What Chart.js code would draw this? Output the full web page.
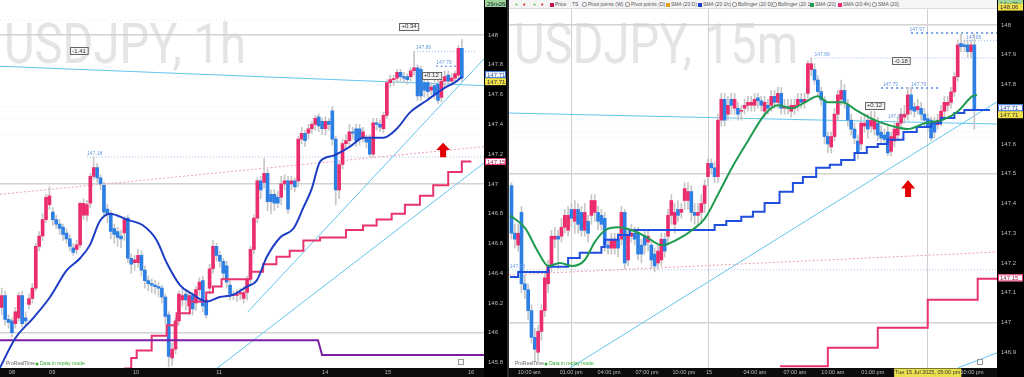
<!DOCTYPE html>
<html><head><meta charset="utf-8">
<script src="https://cdn.jsdelivr.net/npm/chart.js@4.4.1/dist/chart.umd.min.js"></script>
<style>
html,body{margin:0;padding:0;background:#fff;width:1024px;height:377px;overflow:hidden;font-family:"Liberation Sans",Arial,sans-serif;}
#c1{position:absolute;left:0;top:0;}
#c2{position:absolute;left:509px;top:0;}
#sep{position:absolute;left:507px;top:0;width:2px;height:377px;background:#2a2a2a;}
#tb{position:absolute;left:509px;top:0;width:488px;height:8px;background:#f5f5f5;font-size:5px;line-height:8px;color:#555;white-space:nowrap;border-bottom:1px solid #ddd;}
#tb span{position:absolute;top:0;}
#tb i{display:inline-block;width:4px;height:4px;margin-right:1px;vertical-align:-0.5px;}
#tb b{display:inline-block;width:3px;height:3px;border:0.5px solid #999;border-radius:2px;margin-right:1px;vertical-align:-0.5px;}
</style></head><body>
<canvas id="c1" width="507" height="377"></canvas>
<div id="sep"></div>
<canvas id="c2" width="515" height="377"></canvas>
<div id="tb">
<span style="left:6px;color:#2a2">+</span><span style="left:14px;color:#d22">&#9830;</span><span style="left:24px;color:#2a2">+</span><span style="left:32px;color:#d22">&#9830;</span>
<span style="left:41px"><i style="background:#c2185b"></i>Price</span>
<span style="left:63px">TS</span>
<span style="left:73px"><b></b>Pivot points (W)</span>
<span style="left:116px"><b></b>Pivot points (D)</span>
<span style="left:157px"><i style="background:#e0a020"></i>SMA (20 D)</span>
<span style="left:189px"><i style="background:#1e40c8"></i>SMA (20 1h)</span>
<span style="left:223px"><b></b>Bollinger (20 D)</span>
<span style="left:263px"><b></b>Bollinger (20 1)</span>
<span style="left:301px"><i style="background:#1e9e50"></i>SMA (20)</span>
<span style="left:329px"><i style="background:#ec2d6d"></i>SMA (20 4h)</span>
<span style="left:363px"><b></b>SMA (20)</span>
</div>
<script>
// ================= DATA : USDJPY 1h (left) =================
const L_open  = [146.17,146.25,146.09,146.08,146.06,146.10,146.25,146.10,146.19,146.23,146.30,146.58,146.65,146.76,146.86,146.81,146.76,146.73,146.71,146.67,146.63,146.57,146.56,146.59,146.79,146.79,146.87,147.05,147.11,147.04,146.99,146.83,146.80,146.70,146.68,146.65,146.67,146.77,146.50,146.47,146.47,146.52,146.42,146.35,146.33,146.32,146.31,146.30,146.24,146.12,145.83,145.89,146.08,146.22,146.26,146.18,146.25,146.20,146.29,146.35,146.22,146.30,146.43,146.58,146.52,146.48,146.45,146.32,146.25,146.25,146.26,146.23,146.27,146.36,146.56,146.77,147.02,147.01,147.07,146.93,146.93,146.91,146.91,147.00,147.02,147.00,147.02,147.02,147.30,147.34,147.34,147.37,147.40,147.45,147.42,147.37,147.42,147.49,147.30,146.96,147.13,147.27,147.29,147.35,147.37,147.37,147.31,147.30,147.30,147.20,147.41,147.40,147.37,147.46,147.68,147.70,147.71,147.75,147.72,147.72,147.72,147.76,147.78,147.77,147.68,147.68,147.63,147.66,147.67,147.58,147.69,147.73,147.69,147.71,147.73,147.91];
const L_close = [146.25,146.09,146.07,146.00,146.14,146.25,146.06,146.08,146.23,146.30,146.58,146.65,146.76,146.91,146.92,146.76,146.73,146.70,146.66,146.63,146.58,146.54,146.59,146.87,146.87,146.86,147.05,147.11,147.04,147.00,146.81,146.80,146.68,146.66,146.64,146.63,146.76,146.50,146.46,146.49,146.52,146.42,146.35,146.33,146.32,146.31,146.30,146.24,146.11,145.84,145.89,146.08,146.26,146.25,146.22,146.25,146.16,146.29,146.34,146.18,146.12,146.43,146.58,146.52,146.48,146.40,146.34,146.26,146.25,146.26,146.27,146.27,146.36,146.56,146.77,147.02,146.96,147.07,146.88,146.88,146.87,146.87,147.00,147.02,146.83,147.02,146.98,147.30,147.34,147.29,147.37,147.40,147.44,147.39,147.37,147.42,147.40,147.30,146.96,147.13,147.27,147.29,147.35,147.34,147.29,147.30,147.35,147.28,147.20,147.41,147.40,147.38,147.46,147.68,147.70,147.70,147.75,147.72,147.71,147.70,147.76,147.78,147.59,147.59,147.63,147.62,147.65,147.60,147.56,147.69,147.72,147.69,147.71,147.74,147.91,147.71];
const L_high  = [146.30,146.28,146.12,146.10,146.17,146.27,146.28,146.14,146.26,146.33,146.60,146.68,146.80,146.93,146.98,146.84,146.79,146.76,146.73,146.70,146.66,146.60,146.62,146.88,146.90,146.89,147.07,147.18,147.14,147.06,147.01,146.86,146.82,146.73,146.71,146.69,146.78,146.79,146.53,146.52,146.56,146.55,146.45,146.38,146.36,146.35,146.34,146.32,146.26,146.14,145.93,146.10,146.28,146.30,146.29,146.28,146.27,146.31,146.37,146.38,146.25,146.46,146.62,146.60,146.55,146.50,146.48,146.35,146.28,146.29,146.30,146.31,146.38,146.58,146.79,147.04,147.05,147.17,147.10,146.96,146.96,146.95,147.05,147.06,147.05,147.05,147.04,147.32,147.38,147.36,147.40,147.42,147.46,147.47,147.44,147.45,147.44,147.52,147.32,147.15,147.30,147.33,147.40,147.38,147.40,147.40,147.38,147.33,147.33,147.44,147.44,147.43,147.48,147.70,147.73,147.73,147.77,147.77,147.75,147.74,147.78,147.89,147.80,147.79,147.71,147.71,147.68,147.70,147.70,147.72,147.76,147.76,147.74,147.76,147.93,147.97];
const L_low   = [146.12,146.05,146.03,145.97,146.03,146.08,146.04,146.05,146.16,146.20,146.28,146.55,146.62,146.74,146.83,146.72,146.70,146.66,146.62,146.60,146.55,146.52,146.53,146.57,146.76,146.75,146.84,147.03,147.01,146.96,146.78,146.74,146.63,146.60,146.58,146.57,146.62,146.47,146.40,146.42,146.44,146.38,146.30,146.28,146.27,146.26,146.24,146.20,146.06,145.77,145.78,145.86,146.05,146.18,146.15,146.12,146.12,146.15,146.25,146.14,146.10,146.26,146.40,146.48,146.44,146.36,146.30,146.22,146.22,146.21,146.22,146.20,146.22,146.33,146.53,146.74,146.90,146.97,146.82,146.80,146.82,146.84,146.86,146.96,146.80,146.96,146.95,146.98,147.27,147.25,147.30,147.34,147.36,147.35,147.33,147.33,147.36,147.26,146.86,146.90,147.10,147.24,147.25,147.30,147.25,147.26,147.28,147.24,147.18,147.18,147.36,147.35,147.34,147.44,147.65,147.66,147.68,147.69,147.68,147.67,147.69,147.73,147.56,147.56,147.58,147.58,147.60,147.57,147.54,147.55,147.65,147.66,147.66,147.68,147.70,147.69];
const L_xTickBars   = [3, 14.8, 39.4, 63.8, 94.9, 113.3, 137.7];
const L_xTickLabels = ['08','09','10','11','14','15','16'];
const L_smaBars = [-0.5,3.9,9.3,14.2,19.1,23,25.9,28.8,31.8,36.7,41.5,45.5,48.4,52.3,56.2,60.1,64,67.9,71.9,74.8,77.8,81.7,85.6,88.5,91,93.4,97.3,102.2,106.1,112,115.9,119.8,124.7,129.6,133.5,135];
const L_smaVals = [145.765,145.96,146.10,146.24,146.42,146.50,146.59,146.75,146.80,146.76,146.72,146.62,146.47,146.32,146.255,146.21,146.24,146.255,146.31,146.35,146.51,146.64,146.70,146.84,146.97,147.15,147.19,147.25,147.31,147.31,147.37,147.48,147.56,147.64,147.69,147.72];
const L_stepBars = [36,38,39.6,44,48.4,51.3,55.2,60,62,64.5,72.8,76.7,80.6,84.5,88.5,93.4,101,106,110,114.4,118.3,122.7,126.6,131,135,137.8];
const L_stepVals = [145.76,145.83,145.88,145.98,146.05,146.13,146.21,146.27,146.31,146.36,146.41,146.46,146.51,146.55,146.62,146.64,146.69,146.72,146.76,146.80,146.86,146.92,146.99,147.08,147.15,147.15];
const L_purpleBars = [-0.5, 92.8, 94.0, 141.5];
const L_purpleVals = [145.95, 145.95, 145.85, 145.85];
const L_trend1Bars = [-0.5, 141.5], L_trend1Vals = [147.79, 147.66];
const L_trend2Bars = [72.2, 141.5], L_trend2Vals = [146.14, 147.84];
const L_trend3Bars = [63.1, 141.5], L_trend3Vals = [145.76, 147.14];
const L_pinkDotBars = [-0.5, 141.5], L_pinkDotVals = [146.93, 147.25];
const L_lvl1Bars = [25, 141.5], L_lvl1Vals = [147.18, 147.18];
const L_lvl2Bars = [121, 139], L_lvl2Vals = [147.89, 147.89];
const L_lvl3Bars = [127.5, 134.5], L_lvl3Vals = [147.79, 147.79];
const L_pivotVals = [148.10, 147.52, 147.44, 147.33];
const L_levels = [148, 147, 146];

// ================= DATA : USDJPY 15m (right) =================
const R_open  = [147.46,147.30,147.26,147.37,147.13,147.11,147.04,146.95,146.90,146.97,147.04,147.13,147.19,147.28,147.29,147.29,147.32,147.31,147.38,147.34,147.38,147.37,147.31,147.34,147.36,147.37,147.37,147.36,147.35,147.26,147.25,147.25,147.28,147.28,147.37,147.21,147.29,147.30,147.30,147.26,147.29,147.27,147.26,147.23,147.20,147.21,147.28,147.29,147.36,147.33,147.38,147.37,147.41,147.41,147.44,147.37,147.36,147.37,147.40,147.49,147.535,147.52,147.49,147.68,147.75,147.70,147.75,147.72,147.72,147.71,147.72,147.73,147.73,147.73,147.755,147.745,147.71,147.73,147.73,147.76,147.74,147.77,147.72,147.725,147.71,147.72,147.73,147.75,147.74,147.77,147.85,147.85,147.815,147.776,147.748,147.625,147.59,147.625,147.70,147.75,147.78,147.73,147.68,147.65,147.61,147.60,147.66,147.68,147.66,147.65,147.67,147.64,147.63,147.64,147.575,147.61,147.63,147.67,147.69,147.70,147.765,147.725,147.715,147.72,147.70,147.685,147.68,147.67,147.665,147.68,147.71,147.73,147.74,147.775,147.826,147.938,147.933,147.933,147.91,147.933];
const R_close = [147.30,147.28,147.30,147.13,147.11,147.04,146.95,146.91,146.97,147.04,147.15,147.19,147.29,147.29,147.28,147.32,147.36,147.36,147.35,147.38,147.33,147.31,147.37,147.30,147.41,147.41,147.34,147.33,147.26,147.25,147.28,147.28,147.25,147.37,147.20,147.29,147.30,147.28,147.23,147.23,147.26,147.29,147.21,147.19,147.24,147.28,147.24,147.36,147.41,147.37,147.36,147.38,147.45,147.44,147.37,147.36,147.37,147.40,147.46,147.535,147.52,147.49,147.68,147.75,147.68,147.73,147.73,147.75,147.70,147.71,147.73,147.74,147.74,147.75,147.745,147.73,147.74,147.72,147.76,147.74,147.77,147.72,147.725,147.72,147.73,147.73,147.75,147.74,147.75,147.87,147.87,147.815,147.776,147.748,147.625,147.60,147.625,147.70,147.765,147.78,147.74,147.68,147.65,147.62,147.57,147.67,147.67,147.65,147.68,147.68,147.63,147.62,147.615,147.57,147.625,147.65,147.67,147.70,147.70,147.765,147.715,147.71,147.726,147.70,147.68,147.66,147.62,147.64,147.68,147.71,147.74,147.74,147.775,147.826,147.933,147.927,147.927,147.91,147.933,147.715];
const R_high  = [147.47,147.33,147.33,147.39,147.16,147.13,147.06,146.98,146.99,147.06,147.17,147.21,147.31,147.32,147.31,147.35,147.38,147.39,147.40,147.41,147.40,147.39,147.40,147.36,147.43,147.43,147.39,147.38,147.37,147.28,147.30,147.30,147.30,147.39,147.38,147.31,147.33,147.32,147.32,147.28,147.31,147.31,147.28,147.25,147.26,147.30,147.30,147.38,147.43,147.40,147.41,147.40,147.47,147.47,147.46,147.40,147.40,147.43,147.48,147.55,147.55,147.54,147.70,147.77,147.77,147.76,147.77,147.77,147.74,147.73,147.75,147.76,147.76,147.77,147.77,147.76,147.76,147.75,147.78,147.78,147.79,147.79,147.75,147.75,147.75,147.75,147.77,147.77,147.77,147.88,147.89,147.87,147.83,147.79,147.76,147.64,147.64,147.72,147.78,147.815,147.80,147.75,147.70,147.67,147.63,147.69,147.70,147.70,147.71,147.71,147.69,147.66,147.65,147.66,147.64,147.67,147.69,147.72,147.73,147.79,147.79,147.74,147.75,147.74,147.72,147.70,147.69,147.69,147.70,147.73,147.76,147.76,147.79,147.84,147.95,147.97,147.95,147.95,147.95,147.97];
const R_low   = [147.28,147.25,147.24,147.10,147.08,147.01,146.93,146.87,146.87,146.94,147.02,147.10,147.17,147.25,147.18,147.27,147.30,147.29,147.32,147.30,147.30,147.29,147.29,147.27,147.33,147.34,147.31,147.31,147.24,147.23,147.23,147.23,147.22,147.26,147.18,147.19,147.27,147.26,147.21,147.20,147.23,147.24,147.18,147.17,147.18,147.19,147.22,147.26,147.33,147.30,147.34,147.35,147.38,147.38,147.34,147.33,147.33,147.34,147.37,147.46,147.50,147.47,147.47,147.66,147.66,147.68,147.70,147.70,147.68,147.68,147.70,147.71,147.71,147.71,147.72,147.71,147.69,147.70,147.71,147.72,147.72,147.70,147.70,147.70,147.69,147.70,147.71,147.72,147.72,147.75,147.83,147.80,147.76,147.73,147.60,147.57,147.57,147.61,147.68,147.73,147.72,147.66,147.63,147.60,147.55,147.58,147.64,147.62,147.64,147.63,147.61,147.60,147.60,147.56,147.56,147.59,147.61,147.65,147.67,147.68,147.70,147.69,147.70,147.68,147.66,147.64,147.61,147.62,147.65,147.66,147.69,147.71,147.72,147.76,147.81,147.91,147.91,147.89,147.89,147.65];
const R_xTickBars   = [5.3,17.9,29.3,40.7,51.8,59.3,73.1,85.1,96.5,108.5,125,138.3];
const R_xTickLabels = ['10:00 am','01:00 pm','04:00 pm','07:00 pm','10:00 pm','15','04:00 am','07:00 am','10:00 am','01:00 pm','Tue 15 Jul 2025, 05:00 pm','10:00 pm'];
const R_vLineTicks  = [1, 5, 10];
const R_greenBars = [-0.45,4.05,8,11,14.6,18.2,22,25,28.1,32,36.2,40.1,45.2,50,54.2,58.1,62,66.2,71,76.1,80,84.2,88.1,92,95,99.2,104,109.1,114.3,119,124.2,129.3,134.1,138.3,139.8];
const R_greenVals = [147.36,147.318,147.237,147.19,147.20,147.19,147.21,147.27,147.31,147.32,147.31,147.29,147.26,147.28,147.31,147.35,147.43,147.52,147.61,147.70,147.73,147.72,147.74,147.76,147.74,147.74,147.71,147.68,147.66,147.65,147.67,147.68,147.71,147.76,147.765];
const R_stepBars = [-0.45,2,11,17,20.5,27,28,32,35.5,61,64.5,69,72.5,76,80.5,84.5,87.5,91.5,95.6,99,103,106.7,110,113,117.7,121.7,126,129,133,136,143.7];
const R_stepVals = [147.153,147.17,147.187,147.217,147.234,147.254,147.278,147.294,147.311,147.328,147.341,147.355,147.372,147.402,147.439,147.469,147.489,147.52,147.53,147.546,147.57,147.59,147.60,147.614,147.64,147.657,147.67,147.687,147.704,147.714,147.714];
const R_pinkStepBars = [80.6, 95, 110, 125, 140, 145.8];
const R_pinkStepVals = [146.853, 146.915, 146.982, 147.076, 147.147, 147.147];
const R_trend1Bars = [-0.75, 145.8], R_trend1Vals = [147.704, 147.667];
const R_trend2Bars = [17.6, 145.8],  R_trend2Vals = [146.847, 147.742];
const R_trend3Bars = [134, 145.8],   R_trend3Vals = [146.847, 146.898];
const R_pinkDotBars = [-0.75, 145.8], R_pinkDotVals = [147.16, 147.237];
const R_lvl1Bars = [-0.75, 145.8], R_lvl1Vals = [147.177, 147.177];
const R_lvl2Bars = [91, 145.8],    R_lvl2Vals = [147.889, 147.889];
const R_lvl3Bars = [120, 145.8],   R_lvl3Vals = [147.973, 147.973];
const R_lvl4Bars = [136.5, 145.8], R_lvl4Vals = [147.947, 147.947];
const R_lvl5Bars = [111, 129],     R_lvl5Vals = [147.788, 147.788];
const R_pivotVals = [147.68, 147.64, 147.62];
const R_levels = [148, 147.5, 147];

// ================= RENDERING =================
const PINK = '#ec2d6d', BLUE = '#2d7fe3', WICK = '#c6c6c6', LBLUE = '#62c6ee';
const FONT = '"Liberation Sans", Arial, sans-serif';

function candleSets(O, C, H, L) {
  return [
    {type:'bar', data:O.map((_, i) => ({x:i, y:[L[i], H[i]]})), backgroundColor:WICK, barThickness:1, grouped:false, borderWidth:0, order:6},
    {type:'bar', data:O.map((o, i) => ({x:i, y:[o, C[i]]})), backgroundColor:O.map((o, i) => C[i] >= o ? PINK : BLUE),
     barThickness:3, grouped:false, minBarLength:1, borderWidth:0, order:5}
  ];
}
function line(bx, vy, opts) {
  return Object.assign({type:'line', data:bx.map((b, i) => ({x:b, y:vy[i]})), pointRadius:0, pointHitRadius:0,
    borderWidth:1, fill:false, tension:0}, opts);
}
function hLines(vals, xmin, xmax, opts) {
  return vals.map(v => line([xmin, xmax], [v, v], opts));
}

function drawBox(ctx, x, y, text) {
  ctx.font = '6px ' + FONT;
  const w = ctx.measureText(text).width + 4;
  ctx.fillStyle = '#f4f4f4'; ctx.fillRect(Math.round(x - w / 2) + 0.5, Math.round(y - 3.5) + 0.5, w, 7);
  ctx.strokeStyle = '#666'; ctx.lineWidth = 1; ctx.strokeRect(Math.round(x - w / 2) + 0.5, Math.round(y - 3.5) + 0.5, w, 7);
  ctx.fillStyle = '#333'; ctx.textAlign = 'center'; ctx.textBaseline = 'middle'; ctx.fillText(text, x, y + 0.5);
}
function drawText(ctx, x, y, text, color) {
  ctx.font = '5px ' + FONT; ctx.fillStyle = color; ctx.textAlign = 'left'; ctx.textBaseline = 'bottom'; ctx.fillText(text, x, y - 1);
}
function drawArrow(ctx, x, yTop, yBot) {
  const hh = (yBot - yTop) * 0.5;
  ctx.fillStyle = '#e30000'; ctx.beginPath();
  ctx.moveTo(x, yTop); ctx.lineTo(x + 7, yTop + hh); ctx.lineTo(x + 3, yTop + hh); ctx.lineTo(x + 3, yBot);
  ctx.lineTo(x - 3, yBot); ctx.lineTo(x - 3, yTop + hh); ctx.lineTo(x - 7, yTop + hh); ctx.closePath(); ctx.fill();
}
function axisLabel(ctx, x, w, y, text, fill, stroke, color) {
  ctx.fillStyle = fill; ctx.fillRect(x, y - 3.5, w, 7);
  if (stroke) { ctx.strokeStyle = stroke; ctx.lineWidth = 1; ctx.strokeRect(x + 0.5, y - 3, w - 1, 6); }
  ctx.font = '6px ' + FONT; ctx.fillStyle = color; ctx.textAlign = 'left'; ctx.textBaseline = 'middle'; ctx.fillText(text, x + 2, y + 0.5);
}

function makeDeco(s) {
  return {
    id: 'deco' + s.id,
    beforeDraw(chart) {
      const {ctx, chartArea:a, width:w, height:h} = chart;
      ctx.save();
      ctx.fillStyle = '#fff'; ctx.fillRect(0, 0, w, h);
      ctx.fillStyle = '#000'; ctx.fillRect(a.right, 0, w - a.right, h);
      ctx.fillStyle = '#0c0c0c'; ctx.fillRect(0, a.bottom, a.right, h - a.bottom);
      // watermark
      ctx.font = '56px Roboto, ' + FONT;
      const m = ctx.measureText(s.title).width;
      ctx.translate(s.titleX, 63); ctx.scale(s.titleW / m, 1);
      ctx.fillStyle = '#e4e4e4'; ctx.textBaseline = 'alphabetic'; ctx.textAlign = 'left';
      ctx.fillText(s.title, 0, 0);
      ctx.restore();
    },
    afterDatasetsDraw(chart) {
      const {ctx, chartArea:a} = chart, xs = chart.scales.x, ys = chart.scales.y;
      ctx.save();
      s.texts.forEach(t => drawText(ctx, xs.getPixelForValue(t[0]), ys.getPixelForValue(t[1]), t[2], '#6a9be0'));
      s.boxes.forEach(b => drawBox(ctx, xs.getPixelForValue(b[0]), ys.getPixelForValue(b[1]), b[2]));
      const ar = s.arrow;
      drawArrow(ctx, xs.getPixelForValue(ar[0]), ys.getPixelForValue(ar[1]), ys.getPixelForValue(ar[2]));
      // footer
      ctx.font = '5px ' + FONT; ctx.textBaseline = 'middle'; ctx.textAlign = 'left';
      ctx.fillStyle = '#666'; ctx.fillText('ProRealTime', a.left + 6, a.bottom - 4);
      ctx.fillStyle = '#3a3'; ctx.beginPath(); ctx.arc(a.left + 37, a.bottom - 4, 1.5, 0, 7); ctx.fill();
      ctx.fillText('Data in replay mode', a.left + 40, a.bottom - 4);
      ctx.strokeStyle = '#999'; ctx.lineWidth = 1; ctx.strokeRect(Math.round(a.right - s.iconOff) + 0.5, a.bottom - 8.5, 5, 5);
      ctx.restore();
    },
    afterDraw(chart) {
      const {ctx, chartArea:a, width:w} = chart, ys = chart.scales.y;
      ctx.save();
      const x = a.right + 1, lw = w - a.right - 2;
      axisLabel(ctx, x, lw, 3.5, s.timer, '#9ed39a', null, '#123');
      s.axisLabels.forEach(l => axisLabel(ctx, x, lw, ys.getPixelForValue(l[0]) + l[1], l[2], l[3], l[4], l[5]));
      ctx.restore();
    }
  };
}

function makeChart(canvasId, s) {
  const datasets = [].concat(
    candleSets(s.O, s.C, s.H, s.L),
    s.lines
  );
  return new Chart(document.getElementById(canvasId), {
    type: 'bar',
    data: { datasets },
    options: {
      responsive: false, animation: false, events: [],
      layout: { padding: { top: s.padTop, left: 0, right: 0, bottom: 0 } },
      plugins: { legend: { display: false }, tooltip: { enabled: false } },
      scales: {
        x: {
          type: 'linear', min: s.xMin, max: s.xMax, offset: false,
          grid: { offset: false, drawTicks: false, color: c => (s.vTicks.includes(c.index) ? '#cfcfcf' : 'rgba(0,0,0,0)'), lineWidth: 1 },
          border: { display: false },
          afterBuildTicks: sc => { sc.ticks = s.xTicks.map(v => ({ value: v })); },
          afterFit: sc => { sc.height = 9; },
          ticks: {
            autoSkip: false, maxRotation: 0, padding: 1.5,
            font: { size: 5.5, family: FONT },
            color: c => (c.index === s.dateTick ? '#333' : '#bdbdbd'),
            showLabelBackdrop: c => c.index === s.dateTick,
            backdropColor: '#eadf4f', backdropPadding: 1,
            callback: (v, i) => s.xLabels[i]
          }
        },
        y: {
          type: 'linear', position: 'right', min: s.yMin, max: s.yMax,
          grid: { drawTicks: false, color: c => (s.levels.some(l => Math.abs(l - c.tick.value) < 1e-6) ? '#d2d2d2' : 'rgba(0,0,0,0)'), lineWidth: 1.5 },
          border: { display: false },
          afterFit: sc => { sc.width = s.yWidth; },
          ticks: {
            stepSize: s.yStep, includeBounds: false, padding: 4,
            font: { size: 6, family: FONT }, color: '#bdbdbd',
            callback: v => String(+(+v).toFixed(2))
          }
        }
      }
    },
    plugins: [makeDeco(s)]
  });
}

// ---------- left chart ----------
makeChart('c1', {
  id: 1, O: L_open, C: L_close, H: L_high, L: L_low,
  xMin: -0.5, xMax: 141.5, yMin: 145.763, yMax: 148.184, yStep: 0.2, yWidth: 23, padTop: 0,
  xTicks: L_xTickBars, xLabels: L_xTickLabels, vTicks: [], dateTick: -1, levels: L_levels,
  title: 'USDJPY, 1h', titleX: 4, titleW: 242, timer: '29m26s', iconOff: 26,
  lines: [].concat(
    hLines(L_pivotVals, -0.5, 141.5, { borderColor: '#e6e6e6', borderDash: [1, 3], order: 12 }),
    [
      line(L_pinkDotBars, L_pinkDotVals, { borderColor: '#f2a0b8', borderDash: [2, 2], order: 11 }),
      line(L_lvl1Bars, L_lvl1Vals, { borderColor: '#9cc0ee', borderDash: [1, 2], order: 11 }),
      line(L_lvl2Bars, L_lvl2Vals, { borderColor: '#8fb6ec', borderDash: [1, 2], order: 11 }),
      line(L_lvl3Bars, L_lvl3Vals, { borderColor: '#5a8fe0', borderDash: [1.5, 3], borderWidth: 1.5, order: 11 }),
      line(L_trend1Bars, L_trend1Vals, { borderColor: LBLUE, order: 10 }),
      line(L_trend2Bars, L_trend2Vals, { borderColor: LBLUE, order: 10 }),
      line(L_trend3Bars, L_trend3Vals, { borderColor: LBLUE, order: 10 }),
      line(L_purpleBars, L_purpleVals, { borderColor: '#7b1fa2', borderWidth: 2, order: 3 }),
      line(L_stepBars, L_stepVals, { borderColor: '#e8336b', borderWidth: 2, stepped: 'before', order: 3 }),
      line(L_smaBars, L_smaVals, { borderColor: '#1d3ec4', borderWidth: 2, cubicInterpolationMode: 'monotone', order: 2 })
    ]),
  texts: [[25, 147.18, '147.18'], [121.5, 147.89, '147.89'], [127.5, 147.79, '147.79']],
  boxes: [[22.7, 147.895, '-1.41'], [119.5, 148.06, '+0.34'], [126, 147.73, '+0.12']],
  arrow: [129.5, 147.276, 147.178],
  axisLabels: [
    [147.71, -3.5, '147.71', '#ffffff', '#2d6fe0', '#2d4fa0'],
    [147.71, 3.5, '147.71', '#f0e04a', null, '#333'],
    [147.15, 0, '147.15', '#ffffff', '#e8336b', '#a02050']
  ]
});

// ---------- right chart ----------
makeChart('c2', {
  id: 2, O: R_open, C: R_close, H: R_high, L: R_low,
  xMin: -0.75, xMax: 145.8, yMin: 146.847, yMax: 148.057, yStep: 0.1, yWidth: 27, padTop: 8,
  xTicks: R_xTickBars, xLabels: R_xTickLabels, vTicks: R_vLineTicks, dateTick: 10, levels: R_levels,
  title: 'USDJPY, 15m', titleX: 5, titleW: 284, timer: '14m26s', iconOff: 20,
  lines: [].concat(
    hLines(R_pivotVals, -0.75, 145.8, { borderColor: '#e6e6e6', borderDash: [1, 3], order: 12 }),
    [
      line(R_pinkDotBars, R_pinkDotVals, { borderColor: '#f2a0b8', borderDash: [2, 2], order: 11 }),
      line(R_lvl1Bars, R_lvl1Vals, { borderColor: '#a8c4ee', borderDash: [1, 2], order: 11 }),
      line(R_lvl2Bars, R_lvl2Vals, { borderColor: '#8fb6ec', borderDash: [1, 2], order: 11 }),
      line(R_lvl3Bars, R_lvl3Vals, { borderColor: '#4a86e0', borderDash: [2, 3], borderWidth: 1.5, order: 11 }),
      line(R_lvl4Bars, R_lvl4Vals, { borderColor: '#8fb6ec', borderDash: [1, 2], order: 11 }),
      line(R_lvl5Bars, R_lvl5Vals, { borderColor: '#4a86e0', borderDash: [2, 3], borderWidth: 1.5, order: 11 }),
      line(R_trend1Bars, R_trend1Vals, { borderColor: LBLUE, order: 10 }),
      line(R_trend2Bars, R_trend2Vals, { borderColor: LBLUE, order: 10 }),
      line(R_trend3Bars, R_trend3Vals, { borderColor: LBLUE, order: 10 }),
      line(R_pinkStepBars, R_pinkStepVals, { borderColor: '#e8336b', borderWidth: 2, stepped: 'before', order: 3 }),
      line(R_stepBars, R_stepVals, { borderColor: '#1f4fdc', borderWidth: 2, stepped: 'before', order: 3 }),
      line(R_greenBars, R_greenVals, { borderColor: '#1e9a4e', borderWidth: 2, cubicInterpolationMode: 'monotone', order: 2 })
    ]),
  texts: [[91, 147.889, '147.89'], [119.5, 147.973, '147.97'], [136.5, 147.947, '147.95'], [111.5, 147.788, '147.79'],
          [120, 147.788, '147.79'], [113, 147.68, '147.67'], [-0.5, 147.177, '147.18']],
  boxes: [[117, 147.88, '-0.18'], [109, 147.73, '+0.12']],
  arrow: [119.1, 147.479, 147.422],
  axisLabels: [
    [148.06, 0, '148.06', '#f0e04a', null, '#333'],
    [147.71, -3.5, '147.71', '#ffffff', '#2d6fe0', '#2d4fa0'],
    [147.71, 3.5, '147.71', '#f0e04a', null, '#333'],
    [147.15, 0, '147.15', '#ffffff', '#e8336b', '#a02050']
  ]
});
</script>
</body></html>
